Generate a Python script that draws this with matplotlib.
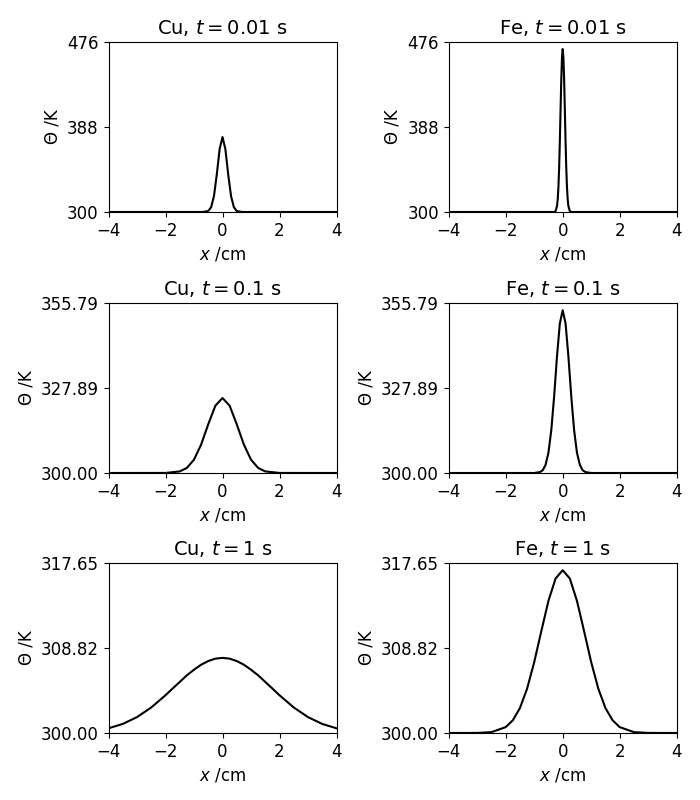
import numpy as np
from matplotlib import pyplot as plt

# half profiles (x >= 0), mirrored about x = 0
cu_001_x = [0, 0.1, 0.2, 0.3, 0.4, 0.5, 0.7, 4]
cu_001_y = [377.6, 365.3, 338.9, 316.4, 304.9, 301.0, 300.0, 300.0]
cu_01_x = [0, 0.25, 0.5, 0.75, 1.0, 1.25, 1.5, 2.0, 4]
cu_01_y = [324.6, 322.09, 315.99, 309.32, 304.38, 301.67, 300.52, 300.02, 300.0]
cu_1_x = [0, 0.25, 0.5, 0.75, 1.0, 1.25, 1.5, 1.75, 2.0, 2.5, 3.0, 3.5, 4.0]
cu_1_y = [307.8, 307.72, 307.47, 307.09, 306.57, 305.99, 305.30, 304.62, 303.92,
          302.65, 301.65, 300.94, 300.49]
fe_001_x = [0, 0.025, 0.05, 0.075, 0.1, 0.125, 0.15, 0.175, 0.2, 0.25, 0.3, 4]
fe_001_y = [468.7, 460.1, 437.0, 405.6, 373.4, 345.9, 325.8, 313.2, 306.1, 300.9, 300.0, 300.0]
fe_01_x = [0, 0.1, 0.2, 0.3, 0.4, 0.5, 0.6, 0.7, 0.8, 1.0, 4]
fe_01_y = [353.4, 349.1, 338.3, 325.2, 314.1, 306.7, 302.7, 300.9, 300.3, 300.0, 300.0]
fe_1_x = [0, 0.25, 0.5, 0.75, 1.0, 1.25, 1.5, 1.75, 2.0, 2.5, 3.0, 4]
fe_1_y = [316.9, 316.04, 313.72, 310.58, 307.35, 304.60, 302.59, 301.32, 300.61,
          300.09, 300.01, 300.0]

times = ["0.01", "0.1", "1"]
y_ticks = [[300, 388, 476], [300.00, 327.89, 355.79], [300.00, 308.82, 317.65]]
y_fmt = ["{:.0f}", "{:.2f}", "{:.2f}"]
curves = {
	"Cu": [(cu_001_x, cu_001_y), (cu_01_x, cu_01_y), (cu_1_x, cu_1_y)],
	"Fe": [(fe_001_x, fe_001_y), (fe_01_x, fe_01_y), (fe_1_x, fe_1_y)],
}


def mirror(xs, ys):
	xs = np.asarray(xs, float)
	ys = np.asarray(ys, float)
	return np.concatenate([-xs[:0:-1], xs]), np.concatenate([ys[:0:-1], ys])


plt.rcParams["font.size"] = 12
fig = plt.figure(figsize=(7, 8), dpi=100)

lefts = [0.155, 0.641]
bottoms = [1 - 212 / 800, 1 - 473 / 800, 1 - 733 / 800]
w, h = 228 / 700, 170 / 800

for c, metal in enumerate(["Cu", "Fe"]):
	for r in range(3):
		ax = fig.add_axes([lefts[c], bottoms[r], w, h])
		x, y = mirror(*curves[metal][r])
		ax.plot(x, y, "k-", lw=1.5)
		ax.set_xlim(-4, 4)
		ax.set_xticks([-4, -2, 0, 2, 4])
		ax.set_ylim(y_ticks[r][0], y_ticks[r][2])
		ax.set_yticks(y_ticks[r])
		ax.set_yticklabels([y_fmt[r].format(v) for v in y_ticks[r]])
		ax.set_xlabel("$x$ /cm")
		ax.set_ylabel("Θ /K")
		ax.set_title("{}, $t = {}$ s".format(metal, times[r]), fontsize=14)

fig.savefig("out.png", dpi=100)
